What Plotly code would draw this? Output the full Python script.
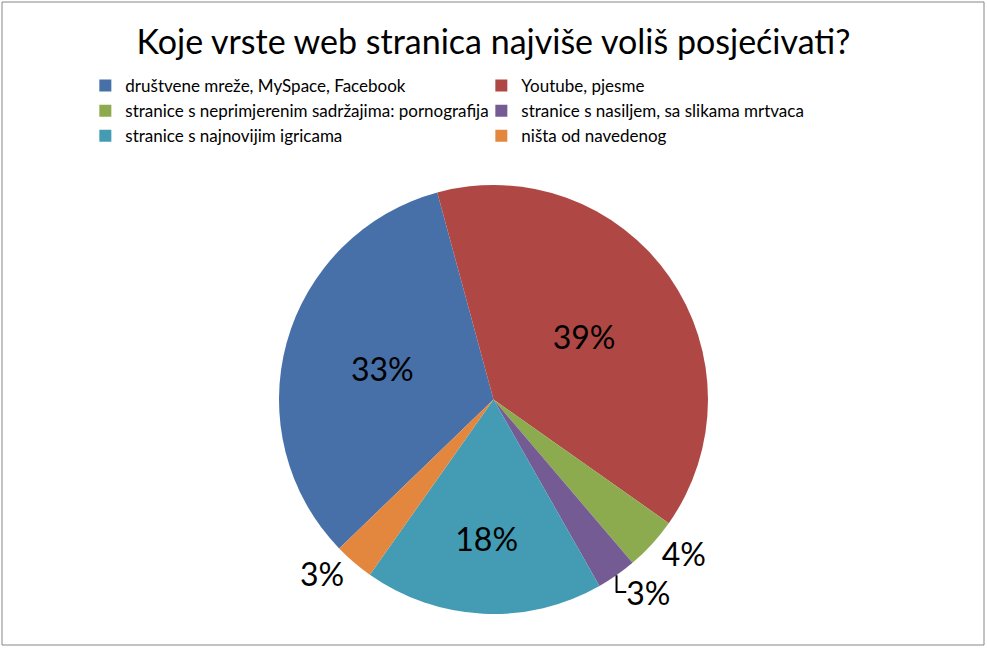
import plotly.graph_objects as go

# ------------------------
# Data
# ------------------------
categories = [
    "društvene mreže, MySpace, Facebook",
    "Youtube, pjesme",
    "stranice s neprimjerenim sadržajima: pornografija",
    "stranice s nasiljem, sa slikama mrtvaca",
    "stranice s najnovijim igricama",
    "ništa od navedenog",
]
shares = [33, 39, 4, 3, 18, 3]

# Office 2007 palette, slightly shaded like the original
colors = ["#4770A9", "#AF4845", "#8CAB4F", "#745B94", "#439CB3", "#E3873F"]
text_pos = ["inside", "inside", "outside", "outside", "inside", "outside"]

fig = go.Figure(go.Pie(
    labels=categories,
    values=shares,
    sort=False,
    direction="clockwise",
    rotation=226,
    marker=dict(colors=colors, line=dict(color="white", width=0)),
    texttemplate="%{percent:.0%}",
    textposition=text_pos,
    textfont=dict(size=32, color="black", family="Lato"),
    insidetextorientation="horizontal",
    domain=dict(x=[0, 1], y=[0, 1]),
    hoverinfo="label+percent",
))

fig.update_layout(
    width=987,
    height=649,
    paper_bgcolor="white",
    plot_bgcolor="white",
    font=dict(family="Lato", color="black"),
    margin=dict(l=20, r=20, t=185, b=35, autoexpand=False),
    title=dict(
        text="Koje vrste web stranica najviše voliš posjećivati?",
        x=0.5,
        xanchor="center",
        y=1 - 42 / 649,
        yanchor="middle",
        yref="container",
        font=dict(size=34, family="Lato", color="black"),
    ),
    legend=dict(
        orientation="h",
        x=0.069,
        xanchor="left",
        y=1 - 68 / 649,
        yanchor="top",
        yref="container",
        entrywidth=351,
        entrywidthmode="pixels",
        font=dict(size=17, family="Lato", color="black"),
        traceorder="normal",
        itemwidth=30,
    ),
    shapes=[dict(
        type="rect", xref="paper", yref="paper",
        x0=-18 / 947, x1=1 + 17 / 947,
        y0=-31 / 429, y1=1 + 183 / 429,
        line=dict(color="#868686", width=1),
        fillcolor="rgba(0,0,0,0)",
    )],
)

fig.write_html(
    "out.html",
    config={"displayModeBar": False},
    post_script="document.body.style.margin='0';",
)
